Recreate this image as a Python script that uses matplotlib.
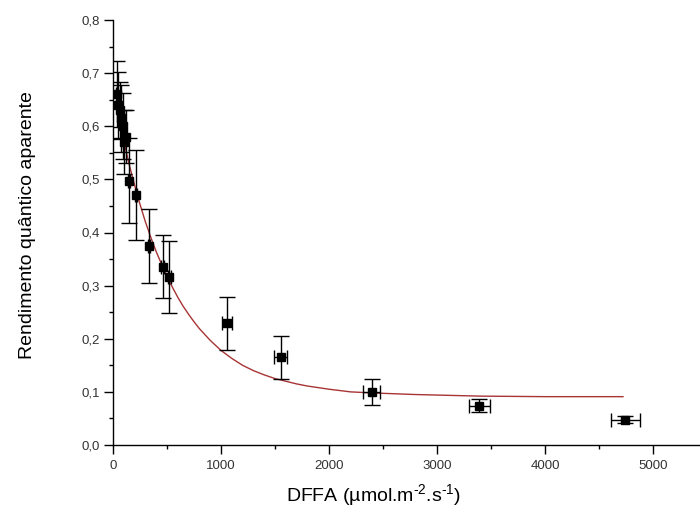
import matplotlib

matplotlib.use("Agg")
import matplotlib.pyplot as plt
from matplotlib.ticker import FuncFormatter, MultipleLocator

plt.rcParams["font.family"] = ["Liberation Sans", "DejaVu Sans"]
plt.rcParams["mathtext.fontset"] = "custom"
plt.rcParams["mathtext.rm"] = "Liberation Sans"
plt.rcParams["mathtext.default"] = "regular"

# ---------------------------------------------------------------- data
# measured points (DFFA, apparent quantum yield) with error bars
dffa = [35, 50, 62, 75, 90, 100, 120, 150, 215, 335, 460, 520,
        1053, 1553, 2395, 3392, 4741]
yield_ = [0.660, 0.640, 0.630, 0.615, 0.600, 0.570, 0.580, 0.497, 0.470,
          0.375, 0.336, 0.316, 0.229, 0.165, 0.100, 0.074, 0.048]
yerr = [0.062, 0.063, 0.054, 0.063, 0.062, 0.060, 0.050, 0.080, 0.085,
        0.070, 0.060, 0.068, 0.050, 0.040, 0.025, 0.012, 0.006]
xerr = [4, 4, 4, 4, 5, 5, 6, 8, 10, 12, 15, 15, 45, 62, 80, 100, 134]

# fitted decay curve
fit_x = [30, 100, 150, 200, 250, 300, 350, 400, 450, 500, 550, 600, 650,
         700, 750, 800, 900, 1000, 1100, 1200, 1300, 1400, 1500, 1600,
         1700, 1800, 2000, 2200, 2400, 2800, 3400, 4000, 4722]
fit_y = [0.640, 0.572, 0.528, 0.489, 0.453, 0.420, 0.391, 0.364, 0.340,
         0.317, 0.297, 0.278, 0.261, 0.246, 0.232, 0.219, 0.197, 0.178,
         0.163, 0.150, 0.140, 0.132, 0.125, 0.120, 0.115, 0.111, 0.105,
         0.100, 0.098, 0.095, 0.092, 0.091, 0.091]

RED = "#a83434"

fig = plt.figure(figsize=(7.0, 5.25), dpi=100)
ax = fig.add_axes([113 / 700, 1 - 445 / 525, 1 - 113 / 700, (445 - 20) / 525])

ax.plot(fit_x, fit_y, color=RED, lw=1.0, zorder=2)
ax.errorbar(dffa, yield_, yerr=yerr, fmt="none", ecolor="black",
            elinewidth=1.0, capsize=5.5, capthick=1.0, zorder=3)
ax.errorbar(dffa, yield_, xerr=xerr, fmt="s", color="black", ms=6,
            ecolor="black", elinewidth=1.0, capsize=5.0, capthick=1.0,
            zorder=4)

ax.set_xlim(0, 5435)
ax.set_ylim(0, 0.8)
ax.xaxis.set_major_locator(MultipleLocator(1000))
ax.xaxis.set_minor_locator(MultipleLocator(500))
ax.yaxis.set_major_locator(MultipleLocator(0.1))
ax.yaxis.set_minor_locator(MultipleLocator(0.05))
ax.yaxis.set_major_formatter(FuncFormatter(lambda v, p: f"{v:.1f}".replace(".", ",")))

for s in ("top", "right"):
    ax.spines[s].set_visible(False)
for s in ("left", "bottom"):
    ax.spines[s].set_linewidth(1.0)
ax.tick_params(which="major", length=6.5, width=1.0, labelsize=9.5,
               labelcolor="#333333")
ax.tick_params(which="minor", length=3.2, width=1.0)
ax.tick_params(axis="x", pad=4)
ax.tick_params(axis="y", pad=3)

fig.text(374 / 700, 1 - 495 / 525, r"DFFA (µmol.m$^{\text{-2}}$.s$^{\text{-1}}$)",
         ha="center", va="center", fontsize=14)
fig.text(28 / 700, 1 - 225 / 525, "Rendimento quântico aparente",
         ha="center", va="center", rotation=90, fontsize=14)

fig.savefig("out.png", dpi=100)
